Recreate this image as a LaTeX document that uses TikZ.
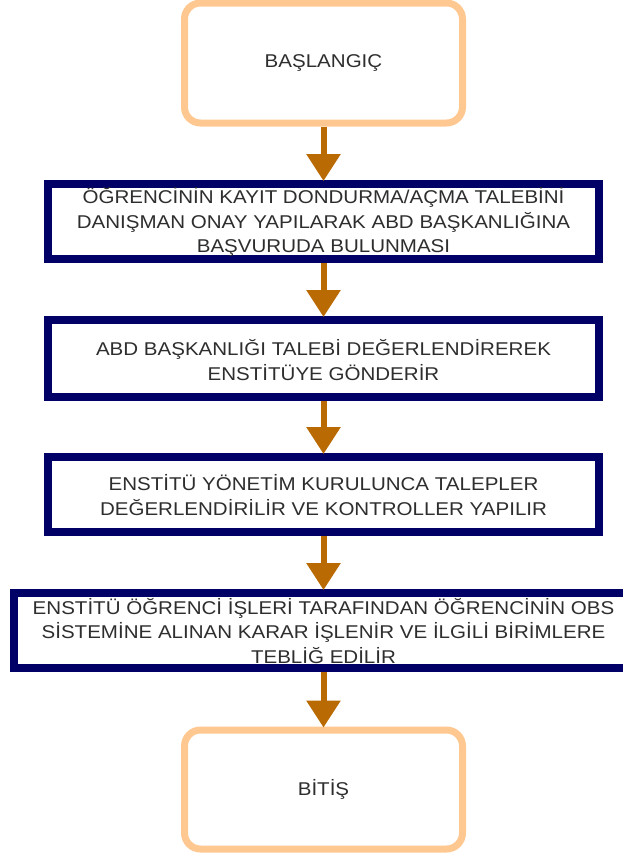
\documentclass[tikz,border=0pt]{standalone}
\usepackage{fontspec}
\setmainfont[FakeStretch=1.11]{Liberation Sans}
\usetikzlibrary{arrows.meta}
\definecolor{peach}{HTML}{FFC891}
\definecolor{navy}{HTML}{000066}
\definecolor{arrowc}{HTML}{BA6A02}
\definecolor{txt}{HTML}{2E2E2E}
\tikzset{
  term/.style={draw=peach, line width=7pt, rounded corners=16pt, fill=white,
    minimum width=278pt, minimum height=120pt, inner sep=0pt,
    font=\fontsize{18.5}{24.5}\selectfont, text=txt},
  proc/.style={draw=navy, line width=8pt, fill=white,
    minimum width=551pt, minimum height=75pt, inner sep=0pt},
  ptext/.style={inner sep=0pt, align=center, text=txt,
    font=\fontsize{18.5}{24.5}\selectfont},
  flow/.style={draw=arrowc, line width=6pt,
    -{Triangle[length=27pt,width=33pt]}, shorten >=-1pt}
}
\begin{document}
\begin{tikzpicture}[x=1pt,y=1pt]
\useasboundingbox (0,0) rectangle (623,-854);
\clip (0,0) rectangle (623,-854);
\fill[white] (0,0) rectangle (623,-854);
\node[term] (start) at (323.5,-63) {BAŞLANGIÇ};
\node[proc] (b1) at (323.5,-221.5) {};
\node[ptext] (t1) at ([yshift=-0.5pt]b1.center) {ÖĞRENCİNİN KAYIT DONDURMA/AÇMA TALEBİNİ\\DANIŞMAN ONAY YAPILARAK ABD BAŞKANLIĞINA\\BAŞVURUDA BULUNMASI};
\node[proc, minimum height=77pt] (b2) at (323.5,-358.5) {};
\node[ptext] (t2) at ([yshift=-1.5pt]b2.center) {ABD BAŞKANLIĞI TALEBİ DEĞERLENDİREREK\\ENSTİTÜYE GÖNDERİR};
\node[proc] (b3) at (323.5,-494.5) {};
\node[ptext] (t3) at ([yshift=-0.5pt]b3.center) {ENSTİTÜ YÖNETİM KURULUNCA TALEPLER\\DEĞERLENDİRİLİR VE KONTROLLER YAPILIR};
\node[proc, minimum width=620pt] (b4) at (323.5,-630.5) {};
\node[ptext] (t4) at ([yshift=-0.5pt]b4.center) {ENSTİTÜ ÖĞRENCİ İŞLERİ TARAFINDAN ÖĞRENCİNİN OBS\\SİSTEMİNE ALINAN KARAR İŞLENİR VE İLGİLİ BİRİMLERE\\TEBLİĞ EDİLİR};
\node[term, minimum height=119pt] (end) at (323.5,-789.5) {BİTİŞ};
\draw[flow] (start) -- (b1);
\draw[flow] (b1) -- (b2);
\draw[flow] (b2) -- (b3);
\draw[flow] (b3) -- (b4);
\draw[flow] (b4) -- (end);
\end{tikzpicture}
\end{document}
